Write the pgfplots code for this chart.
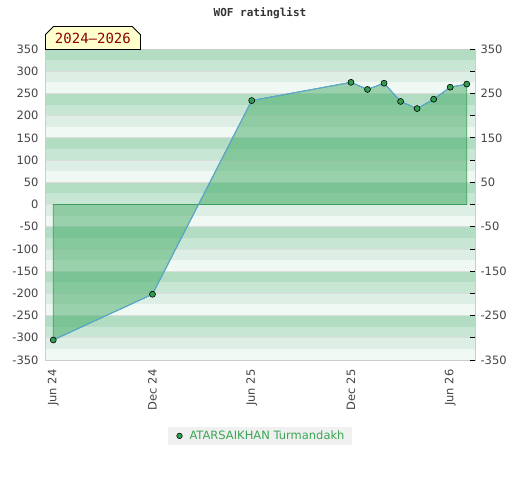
\documentclass[border=0pt]{standalone}
\usepackage{pgfplots}
\pgfplotsset{compat=1.18}
\usepackage{fontspec}
\setmainfont{DejaVu Sans}
\newfontfamily\mono{DejaVu Sans Mono}
\usetikzlibrary{shapes.misc}
\definecolor{sDark}{HTML}{B3DDC3}
\definecolor{sMed}{HTML}{C8E6D4}
\definecolor{sLight}{HTML}{DDEFE4}
\definecolor{sLightest}{HTML}{EFF8F2}
\definecolor{gridc}{HTML}{DDDDDD}
\definecolor{fillg}{HTML}{43AB66}
\definecolor{edgeg}{HTML}{3D9C5A}
\definecolor{lineb}{HTML}{5DA5DA}
\definecolor{markg}{HTML}{2F9E4F}
\definecolor{legg}{HTML}{3AA655}
\definecolor{ticktext}{HTML}{444444}
\definecolor{boxfill}{HTML}{FFFFCC}
\definecolor{boxtext}{HTML}{8B0000}
\pgfplotstableread{
x y
0 -305
6 -202
12 234
18 275
19 259
20 273
21 232
22 216
23 237
24 264
25 271
}\ratings
\begin{document}
\begin{tikzpicture}
\useasboundingbox (0,0) rectangle (520pt,480pt);
\begin{axis}[
  at={(45pt,120pt)}, anchor=south west,
  scale only axis, width=430pt, height=311pt,
  xmin=-0.5, xmax=25.5, ymin=-350, ymax=350,
  axis on top,
  axis line style={draw=gray!40},
  xtick={0,6,12,18,24},
  xticklabels={Jun 24,Dec 24,Jun 25,Dec 25,Jun 26},
  xticklabel style={rotate=90, anchor=east, font=\fontsize{11.5}{13}\selectfont, text=ticktext},
  xticklabel shift=6pt,
  ytick={-350,-300,...,350},
  yticklabel style={font=\fontsize{11.5}{13}\selectfont, text=ticktext},
  yticklabel shift=3pt,
  major tick length=0pt,
  /pgf/number format/assume math mode=true,
  legend style={at={(0.5,-0.244)}, anchor=center, draw=none, fill=black!6,
    font=\fontsize{11.5}{13}\selectfont, text=legg, inner xsep=6pt, inner ysep=1.5pt},
  legend image code/.code={
    \path[draw=none, fill=none] (-6pt,0pt) -- (8pt,0pt);
    \draw[mark=*, mark size=2.8pt, mark options={fill=markg, draw=black, line width=0.5pt}] plot coordinates {(0pt,0pt)};
  },
]
\pgfplotsinvokeforeach{-350,-250,-150,-50,50,150,250}{
  \fill[sLightest] (axis cs:-0.5,#1) rectangle (axis cs:25.5,{#1+25});
  \fill[sLight] (axis cs:-0.5,{#1+25}) rectangle (axis cs:25.5,{#1+50});
  \fill[sMed] (axis cs:-0.5,{#1+50}) rectangle (axis cs:25.5,{#1+75});
  \fill[sDark] (axis cs:-0.5,{#1+75}) rectangle (axis cs:25.5,{#1+100});
}
\pgfplotsinvokeforeach{-300,-250,...,350}{
  \draw[gridc, line width=0.8pt] (axis cs:-0.5,#1) -- (axis cs:25.5,#1);
}
\addplot[draw=edgeg, line width=0.8pt, fill=fillg, fill opacity=0.5, forget plot] table[x=x,y=y] {\ratings} \closedcycle;
\addplot[draw=lineb, line width=1pt, mark=*, mark size=3pt, mark options={fill=markg, draw=black, line width=0.6pt}, forget plot] table[x=x,y=y] {\ratings};
\addlegendimage{only marks}
\addlegendentry{ATARSAIKHAN Turmandakh}
\end{axis}
\begin{axis}[
  at={(45pt,120pt)}, anchor=south west,
  scale only axis, width=430pt, height=311pt,
  xmin=-0.5, xmax=25.5, ymin=-350, ymax=350,
  axis x line=none,
  axis y line*=right,
  axis line style={draw=gray!40},
  ytick={-350,-250,...,350},
  minor ytick={-300,-200,...,300},
  major tick length=5pt, minor tick length=5pt,
  tick style={black, line width=0.8pt},
  yticklabel style={font=\fontsize{11.5}{13}\selectfont, text=ticktext},
  yticklabel shift=2pt,
  /pgf/number format/assume math mode=true,
]
\end{axis}
\node[font=\mono\bfseries\fontsize{11}{12}\selectfont, text=black!80] at (260pt,467pt) {WOF ratinglist};
\node[chamfered rectangle, chamfered rectangle corners={north west,north east},
  chamfered rectangle xsep=4pt, chamfered rectangle ysep=4pt,
  draw=black, line width=0.8pt, fill=boxfill, text=boxtext,
  font=\mono\fontsize{14}{16}\selectfont, inner xsep=3pt, inner ysep=2pt,
  minimum width=95pt, minimum height=23pt, anchor=south west] at (45pt,430pt) {2024–2026};
\end{tikzpicture}
\end{document}
